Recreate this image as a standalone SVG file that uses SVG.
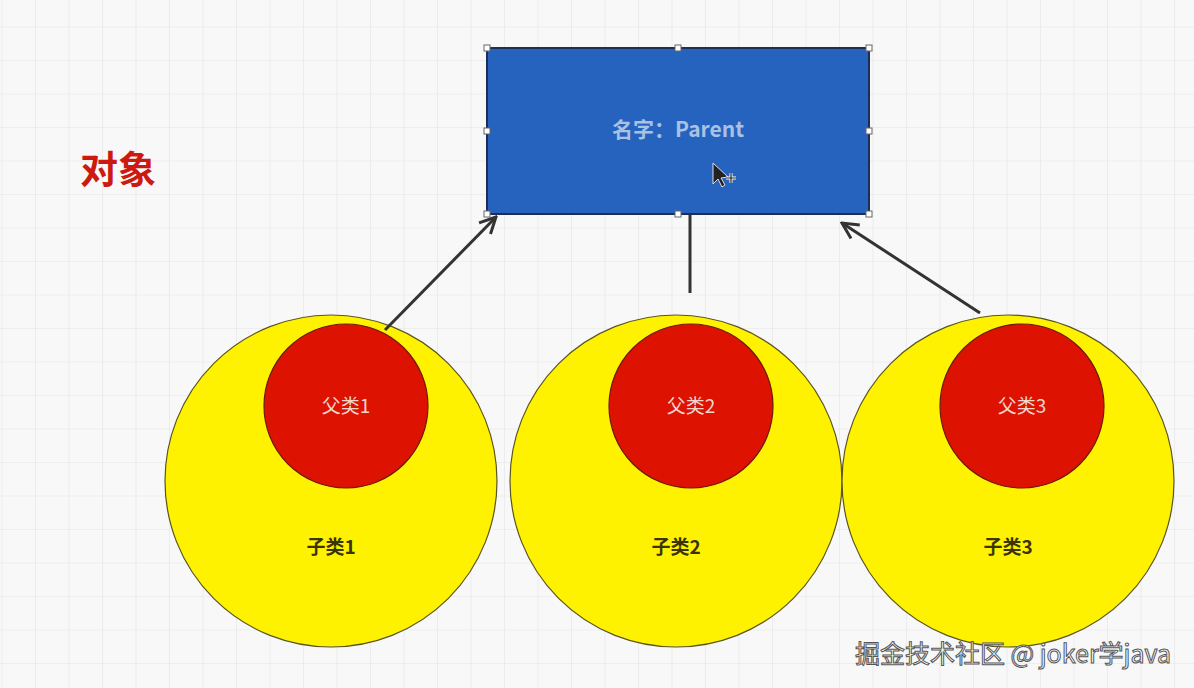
<svg xmlns="http://www.w3.org/2000/svg" width="1194" height="688" viewBox="0 0 1194 688">
<defs>
<pattern id="grid" x="1.5" y="26.5" width="33.5" height="33.5" patternUnits="userSpaceOnUse">
<path d="M0 0H33.5M0 0V33.5" fill="none" stroke="#e4e4e4" stroke-width="1.2"/>
</pattern>
<marker id="arr" viewBox="0 0 20 20" refX="18" refY="10" markerWidth="20" markerHeight="20" markerUnits="userSpaceOnUse" orient="auto">
<path d="M2 2L18 10L2 18" fill="none" stroke="#333" stroke-width="3" stroke-linejoin="miter"/>
</marker>
<style>
.big{fill:#fff200;stroke:#5a5520;stroke-width:1.2}
.small{fill:#dd1200;stroke:#6a1a10;stroke-width:1.2}
.lab{font-family:"Noto Sans CJK SC","Noto Sans",sans-serif;font-size:19px;text-anchor:middle}
.inner{fill:#f4d6cc}
.outer{fill:#3a3400;font-weight:bold}
.conn{stroke:#333;stroke-width:3;fill:none}
.h{fill:#fff;stroke:#666;stroke-width:1}
</style>
</defs>
<rect width="1194" height="688" fill="#f8f8f8"/>
<rect width="1194" height="688" fill="url(#grid)"/>
<text x="118" y="183" font-family="Noto Sans CJK SC,sans-serif" font-size="38" font-weight="bold" fill="#cc1a10" text-anchor="middle">对象</text>
<g id="node-parent">
<rect x="487" y="48" width="382" height="166" rx="4" fill="#2563be" stroke="#1e2f55" stroke-width="2"/>
<text x="678" y="137" font-family="Noto Sans CJK SC,Noto Sans,sans-serif" font-size="21" font-weight="bold" fill="#a9c1e2" text-anchor="middle">名字：Parent</text>
<rect class="h" x="484" y="45" width="6" height="6"/>
<rect class="h" x="675" y="45" width="6" height="6"/>
<rect class="h" x="866" y="45" width="6" height="6"/>
<rect class="h" x="484" y="128" width="6" height="6"/>
<rect class="h" x="866" y="128" width="6" height="6"/>
<rect class="h" x="484" y="211" width="6" height="6"/>
<rect class="h" x="675" y="211" width="6" height="6"/>
<rect class="h" x="866" y="211" width="6" height="6"/>
<path d="M713 163L713 184L718 179L722 187L725 185L721 178L728 177Z" fill="#222" stroke="#ddd" stroke-width="1"/>
<path d="M726 178H736M731 173V183" stroke="#fff" stroke-width="3"/>
<path d="M726 178H736M731 173V183" stroke="#222" stroke-width="1.2"/>
</g>
<g id="node-sub1">
<circle class="big" cx="331" cy="481" r="166"/>
<circle class="small" cx="346" cy="406" r="82"/>
<text class="lab inner" x="346" y="413">父类1</text>
<text class="lab outer" x="331" y="554">子类1</text>
</g>
<g id="node-sub2">
<circle class="big" cx="676" cy="481" r="166"/>
<circle class="small" cx="691" cy="406" r="82"/>
<text class="lab inner" x="691" y="413">父类2</text>
<text class="lab outer" x="676" y="554">子类2</text>
</g>
<g id="node-sub3">
<circle class="big" cx="1008" cy="481" r="166"/>
<circle class="small" cx="1022" cy="406" r="82"/>
<text class="lab inner" x="1022" y="413">父类3</text>
<text class="lab outer" x="1008" y="554">子类3</text>
</g>
<g id="connectors">
<line class="conn" x1="385" y1="330" x2="496" y2="217" marker-end="url(#arr)"/>
<line class="conn" x1="690" y1="293" x2="690" y2="215"/>
<line class="conn" x1="980" y1="313" x2="842" y2="223" marker-end="url(#arr)"/>
</g>
<text x="1013" y="663" font-family="Noto Sans CJK SC,Noto Sans,sans-serif" font-size="25" fill="#ffffff" stroke="#555" stroke-width="1" text-anchor="middle">掘金技术社区 @ joker学java</text>
</svg>
